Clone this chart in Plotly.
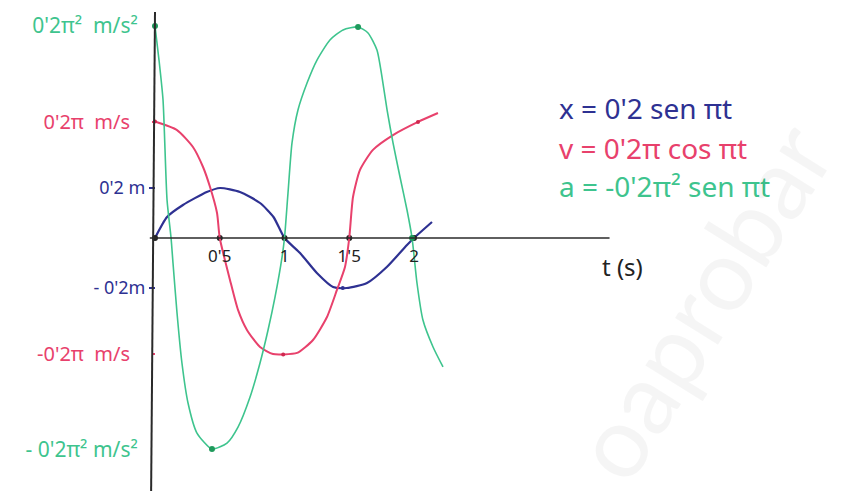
import plotly.graph_objects as go

BLUE = "#2e3192"
RED = "#e8416c"
GREEN = "#3ec48e"

# x(t) in m
t_x = [0.0, 0.093, 0.216, 0.40, 0.502, 0.656, 0.811, 0.915, 1.0, 1.12, 1.25,
       1.375, 1.48, 1.637, 1.79, 1.946, 2.0, 2.139]
x_vals = [0.0, 0.084, 0.132, 0.184, 0.20, 0.184, 0.14, 0.084, 0.0, -0.06, -0.14,
          -0.196, -0.20, -0.18, -0.116, -0.028, 0.0, 0.064]

# v(t) in m/s
t_v = [0.0, 0.17, 0.293, 0.371, 0.425, 0.479, 0.5, 0.579, 0.641, 0.71, 0.811,
       0.911, 0.99, 1.097, 1.22, 1.328, 1.405, 1.467, 1.5, 1.529, 1.583, 1.683,
       1.838, 2.031, 2.185]
v_vals = [0.628, 0.582, 0.491, 0.383, 0.275, 0.135, 0.0, -0.226, -0.388, -0.496,
          -0.588, -0.626, -0.628, -0.62, -0.55, -0.426, -0.28, -0.156, 0.0, 0.221,
          0.367, 0.475, 0.555, 0.626, 0.674]

# a(t) in m/s^2
t_a = [0.0, 0.031, 0.062, 0.093, 0.124, 0.139, 0.17, 0.208, 0.255, 0.324, 0.44,
       0.556, 0.641, 0.734, 0.811, 0.873, 0.927, 0.981, 1.0, 1.027, 1.058, 1.104,
       1.174, 1.251, 1.351, 1.452, 1.568, 1.645, 1.714, 1.753, 1.792, 1.838,
       1.892, 1.946, 1.985, 2.023, 2.069, 2.147, 2.224]
a_vals = [1.974, 1.657, 1.285, 0.354, 0.0, -0.233, -0.698, -1.164, -1.536, -1.816,
          -1.965, -1.909, -1.76, -1.48, -1.164, -0.857, -0.549, -0.177, 0.0, 0.419,
          0.885, 1.192, 1.443, 1.657, 1.844, 1.937, 1.965, 1.909, 1.75, 1.499,
          1.192, 0.885, 0.568, 0.261, 0.0, -0.419, -0.764, -1.015, -1.201]

# marked points
axis_dots_t = [0.0, 0.5, 1.0, 1.5, 2.0]
x_dots_t = [1.45]
x_dots = [-0.2]
v_dots_t = [0.0, 0.99, 2.031]
v_dots = [0.628, -0.628, 0.626]
a_dots_t = [0.0, 0.44, 1.568, 1.985]
a_dots = [1.974, -1.965, 1.965, 0.0]

t_ticks = [0.5, 1.0, 1.5, 2.0]
t_ticktext = ["0'5", "1", "1'5", "2"]
x_ticks = [0.2, -0.2]
x_ticktext = ["0'2 m", "- 0'2m"]
v_ticks = [0.2 * 3.14159, -0.2 * 3.14159]
v_ticktext = ["0'2π  m/s", "-0'2π  m/s"]
a_ticks = [0.2 * 3.14159 ** 2, -0.2 * 3.14159 ** 2]
a_ticktext = ["0'2π²  m/s²", "- 0'2π² m/s²"]

FONT = "Noto Sans"
W, H = 850, 491
X0_PX, ZERO_PX = 155, 238
T_PX = 129.5

t_range = [-X0_PX / T_PX, (W - X0_PX) / T_PX]
y_pos = X0_PX / W


def y_range(px_per_unit):
    return [-(H - ZERO_PX) / px_per_unit, ZERO_PX / px_per_unit]


fig = go.Figure()

fig.add_trace(go.Scatter(x=t_a, y=a_vals, mode="lines", yaxis="y3",
                         line=dict(color=GREEN, width=1.6, shape="spline", smoothing=0.6)))
fig.add_trace(go.Scatter(x=t_v, y=v_vals, mode="lines", yaxis="y2",
                         line=dict(color=RED, width=2, shape="spline", smoothing=0.6)))
fig.add_trace(go.Scatter(x=t_x, y=x_vals, mode="lines", yaxis="y",
                         line=dict(color=BLUE, width=2.2, shape="spline", smoothing=0.6)))

fig.add_trace(go.Scatter(x=a_dots_t, y=a_dots, mode="markers", yaxis="y3",
                         marker=dict(color="#1f9a5c", size=6)))
fig.add_trace(go.Scatter(x=v_dots_t, y=v_dots, mode="markers", yaxis="y2",
                         marker=dict(color="#d0284f", size=4)))
fig.add_trace(go.Scatter(x=x_dots_t, y=x_dots, mode="markers", yaxis="y",
                         marker=dict(color=BLUE, size=4)))
fig.add_trace(go.Scatter(x=axis_dots_t, y=[0] * len(axis_dots_t), mode="markers",
                         yaxis="y", marker=dict(color="#222222", size=6)))

# hand-drawn axes
fig.add_shape(type="line", xref="x", yref="y", x0=-0.04, x1=3.51, y0=0, y1=0,
              line=dict(color="#2a2a2a", width=1.6))
fig.add_shape(type="line", xref="x", yref="paper", x0=0.0, x1=-0.03, y0=1 - 12 / H,
              y1=0, line=dict(color="#2a2a2a", width=2))

common = dict(showgrid=False, zeroline=False, showline=False, anchor="free",
              position=y_pos, ticks="outside", tickwidth=1.5)

fig.update_layout(
    width=W, height=H,
    margin=dict(l=0, r=0, t=0, b=0),
    paper_bgcolor="white", plot_bgcolor="white",
    showlegend=False,
    font=dict(family=FONT),
    xaxis=dict(range=t_range, domain=[0, 1], showgrid=False, zeroline=False,
               showline=False, anchor="free", position=(H - ZERO_PX) / H,
               tickvals=t_ticks, ticktext=t_ticktext, ticks="",
               tickfont=dict(color="#222222", size=17), ticklabelstandoff=6),
    yaxis=dict(range=y_range(250), tickvals=x_ticks, ticktext=x_ticktext,
               tickfont=dict(color=BLUE, size=18), tickcolor=BLUE, ticklen=6,
               ticklabelstandoff=0, **common),
    yaxis2=dict(range=y_range(185.4), overlaying="y", tickvals=v_ticks,
                ticktext=v_ticktext, tickfont=dict(color=RED, size=20),
                tickcolor=RED, ticklen=3, ticklabelstandoff=18, **common),
    yaxis3=dict(range=y_range(107.4), overlaying="y", tickvals=a_ticks,
                ticktext=a_ticktext, tickfont=dict(color=GREEN, size=21),
                tickcolor=GREEN, ticklen=0, ticklabelstandoff=13, **common),
)

# equations and axis title
eq_style = dict(xref="paper", yref="paper", showarrow=False, xanchor="left",
                yanchor="middle")
fig.add_annotation(x=557 / W, y=1 - 108 / H, text="x = 0'2 sen πt",
                   font=dict(color=BLUE, size=28), **eq_style)
fig.add_annotation(x=557 / W, y=1 - 148 / H, text="v = 0'2π cos πt",
                   font=dict(color=RED, size=28), **eq_style)
fig.add_annotation(x=557 / W, y=1 - 186 / H, text="a = -0'2π² sen πt",
                   font=dict(color=GREEN, size=28), **eq_style)
fig.add_annotation(x=600 / W, y=1 - 266 / H, text="t (s)",
                   font=dict(color="#222222", size=24), **eq_style)

# faint watermark
fig.add_annotation(x=700 / W, y=1 - 300 / H, xref="paper", yref="paper",
                   text="oaprobar", showarrow=False, textangle=-58,
                   xanchor="center", yanchor="middle",
                   font=dict(color="rgba(0,0,0,0.04)", size=100, family="Lato"))

fig.write_html("out.html", config={"displayModeBar": False},
               post_script="document.body.style.margin='0';")
